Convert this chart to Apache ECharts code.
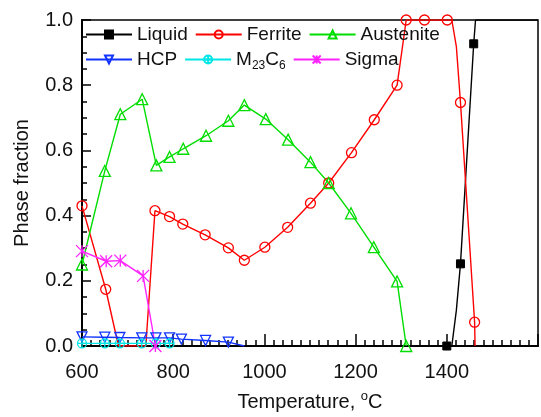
<!DOCTYPE html>
<html><head><meta charset="utf-8">
<script src="https://cdn.jsdelivr.net/npm/echarts@6/dist/echarts.min.js"></script>
<style>html,body{margin:0;padding:0;background:#fff}#c{width:541px;height:417px}</style>
</head><body><div id="c"></div>
<script>
// Temperatures (°C) and phase fractions per phase
const liquidT    = [1400, 1411, 1421, 1430, 1459, 1463, 1600];
const liquidF    = [0, 0, 0.11, 0.252, 0.927, 1.0, 1.0];
const ferriteT   = [600, 652, 680, 740, 760, 792, 821, 870, 921, 956, 1001, 1051, 1101, 1141, 1191, 1241, 1291, 1311, 1351, 1401, 1411, 1421, 1430, 1461, 1462];
const ferriteF   = [0.43, 0.174, 0, 0, 0.415, 0.397, 0.374, 0.341, 0.301, 0.263, 0.303, 0.364, 0.438, 0.50, 0.593, 0.694, 0.800, 1.0, 1.0, 1.0, 1.0, 0.918, 0.747, 0.073, 0];
const austeniteT = [600, 650, 684, 732, 763, 792, 822, 872, 921, 956, 1003, 1052, 1101, 1141, 1190, 1240, 1291, 1311];
const austeniteF = [0.25, 0.537, 0.711, 0.757, 0.554, 0.580, 0.605, 0.645, 0.691, 0.739, 0.696, 0.633, 0.564, 0.50, 0.407, 0.303, 0.198, 0];
const hcpT       = [600, 650, 683, 731, 762, 792, 818, 871, 921, 956];
const hcpF       = [0.028, 0.027, 0.026, 0.025, 0.025, 0.025, 0.021, 0.017, 0.012, 0];
const m23T       = [600, 650, 683, 731, 762, 792];
const m23F       = [0.008, 0.008, 0.008, 0.008, 0.008, 0.008];
const sigmaT     = [600, 653, 684, 734, 761];
const sigmaF     = [0.291, 0.26, 0.262, 0.215, 0];
const xTicks = [600, 800, 1000, 1200, 1400];
const seriesNames = ['Liquid', 'Ferrite', 'Austenite', 'HCP', 'M23C6', 'Sigma'];

const FONT = '"Liberation Sans", Arial, sans-serif';
function pts(T, F, hideIdx) {
  return T.map((t, i) => {
    const d = { value: [t, F[i]] };
    if (hideIdx && hideIdx.indexOf(i) >= 0) d.symbol = 'none';
    return d;
  });
}
function mk(name, T, F, color, symbol, size, filled, hideIdx) {
  return {
    name, type: 'line', data: pts(T, F, hideIdx),
    symbol, symbolSize: size, showAllSymbol: true,
    lineStyle: { color, width: 1.4 },
    itemStyle: filled ? { color, borderColor: color, borderWidth: 1 }
                      : { color: 'rgba(255,255,255,0)', borderColor: color, borderWidth: 1.3 },
    emphasis: { disabled: true }, animation: false, z: 3
  };
}
const downTri = 'path://M0,0L10,0L5,9Z';
const crossCircle = 'path://M10,5A5,5,0,1,1,0,5A5,5,0,1,1,10,5ZM5,0L5,10M0,5L10,5';
const star = 'path://M0,0L10,10M10,0L0,10M5,0L5,10';

const legendText = {
  fontFamily: FONT, fontSize: 19, color: '#111',
  rich: { sub: { fontFamily: FONT, fontSize: 12, color: '#111', padding: [12, 0, 0, 0] } }
};
const legendFmt = n => n === 'M23C6' ? 'M{sub|23}C{sub|6}' : n;

const option = {
  backgroundColor: '#fff',
  animation: false,
  grid: { left: 82, top: 20, width: 518, height: 329, show: true, borderColor: '#000', borderWidth: 1.5, backgroundColor: 'transparent' },
  legend: [
    { data: seriesNames.slice(0, 3), left: 85, top: 25, padding: 0, itemGap: 7, itemWidth: 46, itemHeight: 10,
      textStyle: legendText, formatter: legendFmt, selectedMode: false },
    { data: seriesNames.slice(3), left: 85, top: 50, padding: 0, itemGap: 7, itemWidth: 46, itemHeight: 10,
      textStyle: legendText, formatter: legendFmt, selectedMode: false }
  ],
  xAxis: {
    type: 'value', min: 600, max: 1600, interval: 200,
    name: 'Temperature, {sup|o}C', nameLocation: 'middle', nameGap: 44,
    nameTextStyle: { fontFamily: FONT, fontSize: 20, color: '#111',
      rich: { sup: { fontFamily: FONT, fontSize: 13, color: '#111', padding: [0, 0, 11, 0] } } },
    axisLine: { lineStyle: { color: '#000', width: 2 } },
    axisTick: { inside: true, length: 12, lineStyle: { color: '#000', width: 1.5 } },
    minorTick: { show: true, splitNumber: 10, length: 6, lineStyle: { color: '#000', width: 1.5 } },
    splitLine: { show: false },
    axisLabel: { fontFamily: FONT, fontSize: 20, color: '#111', margin: 16,
      formatter: v => xTicks.indexOf(v) >= 0 ? String(v) : '' }
  },
  yAxis: {
    type: 'value', min: 0, max: 1, interval: 0.2,
    name: 'Phase fraction', nameLocation: 'middle', nameGap: 50,
    nameTextStyle: { fontFamily: FONT, fontSize: 20, color: '#111' },
    axisLine: { show: true, lineStyle: { color: '#000', width: 2 } },
    axisTick: { show: true, inside: true, length: 9, lineStyle: { color: '#000', width: 1.5 } },
    minorTick: { show: true, splitNumber: 4, length: 5, lineStyle: { color: '#000', width: 1.5 } },
    splitLine: { show: false },
    axisLabel: { fontFamily: FONT, fontSize: 20, color: '#111', margin: 9, formatter: v => v.toFixed(1) }
  },
  series: [
    mk('Liquid', liquidT, liquidF, '#000000', 'rect', 8, true, [1, 2, 5, 6]),
    mk('Ferrite', ferriteT, ferriteF, '#ff0000', 'circle', 10, false, [2, 3, 20, 21, 24]),
    mk('Austenite', austeniteT, austeniteF, '#00dd00', 'triangle', 11, false, []),
    mk('HCP', hcpT, hcpF, '#1133ff', downTri, 10, false, [9]),
    mk('M23C6', m23T, m23F, '#00e5e5', crossCircle, 9, false, []),
    mk('Sigma', sigmaT, sigmaF, '#ff22ff', star, 12, false, [])
  ]
};
const chart = echarts.init(document.getElementById('c'), null, { renderer: 'canvas' });
chart.setOption(option);
</script></body></html>
